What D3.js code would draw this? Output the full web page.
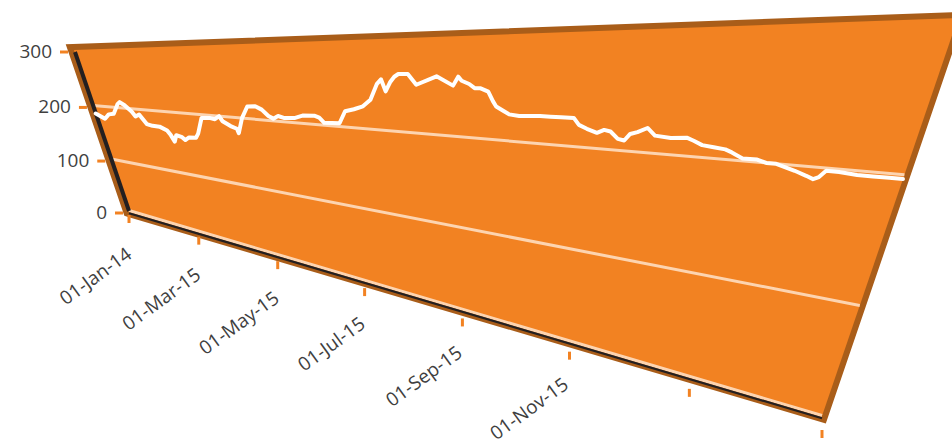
<!DOCTYPE html>
<html>
<head>
<meta charset="utf-8">
<script src="https://cdn.jsdelivr.net/npm/d3@7"></script>
<style>
  html, body { margin: 0; padding: 0; background: #ffffff; }
  svg { display: block; font-family: "Open Sans", "DejaVu Sans", sans-serif; }
</style>
</head>
<body>
<svg id="chart" width="952" height="445"></svg>
<script>
// ---- data ----
const dates = [
  "2015-01-01","2015-01-07","2015-01-11","2015-01-15","2015-01-20","2015-01-22","2015-01-25","2015-01-29","2015-01-31",
  "2015-02-03","2015-02-07","2015-02-11","2015-02-16","2015-02-21","2015-02-23","2015-02-25","2015-02-27",
  "2015-03-03","2015-03-05","2015-03-08","2015-03-13","2015-03-15","2015-03-19","2015-03-25","2015-03-28","2015-03-31",
  "2015-04-02","2015-04-07","2015-04-11","2015-04-12","2015-04-15","2015-04-19","2015-04-24","2015-04-28",
  "2015-05-02","2015-05-05","2015-05-08","2015-05-12","2015-05-18","2015-05-23","2015-05-30",
  "2015-06-02","2015-06-05","2015-06-14","2015-06-17","2015-06-22","2015-06-27",
  "2015-07-01","2015-07-04","2015-07-06","2015-07-09","2015-07-11","2015-07-13","2015-07-15","2015-07-20","2015-07-25",
  "2015-08-04","2015-08-13","2015-08-15","2015-08-17","2015-08-21","2015-08-24","2015-08-27","2015-08-31",
  "2015-09-03","2015-09-05","2015-09-09","2015-09-12","2015-09-17","2015-09-27",
  "2015-10-02","2015-10-07","2015-10-13","2015-10-16","2015-10-20","2015-10-25","2015-10-28","2015-10-31",
  "2015-11-04","2015-11-07","2015-11-09","2015-11-12","2015-11-16","2015-11-20","2015-11-27",
  "2015-12-04","2015-12-07","2015-12-11","2015-12-16","2015-12-21","2015-12-24","2015-12-29",
  "2016-01-04","2016-01-08","2016-01-12","2016-01-20","2016-01-25","2016-01-28","2016-01-30",
  "2016-02-01","2016-02-06","2016-02-13","2016-02-19","2016-02-25","2016-03-01"
];
const prices = [
  185,177,186,188,206,210,205,195,187,
  191,176,174,174,169,162,152,163,
  161,157,162,163,170,195,196,195,200,
  193,187,184,178,200,217,218,214,
  206,203,207,205,206,210,211,
  209,203,204,219,222,226,
  234,252,257,244,254,260,263,263,252,
  261,252,261,257,254,250,250,247,
  238,233,229,226,225,226,
  226,226,226,220,217,214,217,216,
  210,209,215,217,221,215,214,
  215,213,210,209,208,206,202,
  202,200,200,196,193,191,193,
  198,198,197,197,197,197
];
const yTickValues = [0, 100, 200, 300];
const xTickDates = ["2015-01-01","2015-03-01","2015-05-01","2015-07-01","2015-09-01","2015-11-01","2016-01-01","2016-03-01"];
const xTickLabels = ["01-Jan-14","01-Mar-15","01-May-15","01-Jul-15","01-Sep-15","01-Nov-15","",""];

// ---- colours ----
const ORANGE = "#F28222";
const BROWN = "#A95D19";
const GRID = "#FDD4B0";
const AXIS = "#231F20";
const TEXT = "#3F3F3F";

const parse = d3.timeParse("%Y-%m-%d");
const svg = d3.select("#chart");

// flat chart space: both axes normalised to [0,1]
const x = d3.scaleTime().domain([parse("2015-01-01"), parse("2016-03-01")]).range([0, 1]);
const y = d3.scaleLinear().domain([0, 300]).range([0, 1]);

// tilted plot plane: corner positions on screen and foreshortening per direction
const corner = { bl: [129, 211], br: [822, 416], tr: [958, 18], tl: [74, 50] };
const depth = { x: 0.44, left: 0.05, right: 0.3 };
const foreshorten = (t, k) => t / (1 + k * (1 - t));
const mix = (a, b, t) => [a[0] + (b[0] - a[0]) * t, a[1] + (b[1] - a[1]) * t];
function project(u, v) {
  const L = mix(corner.bl, corner.tl, foreshorten(v, depth.left));
  const R = mix(corner.br, corner.tr, foreshorten(v, depth.right));
  return mix(L, R, foreshorten(u, depth.x));
}
const quad = [project(0, 0), project(1, 0), project(1, 1), project(0, 1)];
const poly = pts => "M" + pts.map(p => p.join(",")).join("L") + "Z";

// plane thickness (brown rim) and face
svg.append("path").attr("d", poly(quad))
  .attr("fill", BROWN).attr("stroke", BROWN).attr("stroke-width", 12)
  .attr("stroke-linejoin", "miter");
svg.append("path").attr("d", poly(quad)).attr("fill", ORANGE);

// horizontal gridlines
const gridVals = yTickValues.filter(v => v < 300);
svg.append("g").selectAll("line").data(gridVals).join("line")
  .each(function (v) {
    const a = project(0, y(v)), b = project(1, y(v));
    const dy = v === 0 ? -0.5 : 0;
    d3.select(this).attr("x1", a[0]).attr("y1", a[1] + dy).attr("x2", b[0]).attr("y2", b[1] + dy);
  })
  .attr("stroke", GRID).attr("stroke-width", 3);

// axis domain lines (left and bottom)
const l0 = project(0, 0), l1 = project(0, 1), b1 = project(1, 0);
svg.append("line").attr("x1", l0[0]).attr("y1", l0[1]).attr("x2", l1[0] + 1).attr("y2", l1[1] + 2)
  .attr("stroke", AXIS).attr("stroke-width", 4);
svg.append("line").attr("x1", l0[0]).attr("y1", l0[1] + 2.2).attr("x2", b1[0]).attr("y2", b1[1] + 2.2)
  .attr("stroke", AXIS).attr("stroke-width", 2.2);

// price line
const series = dates.map((d, i) => ({ date: parse(d), value: prices[i] }));
const line = d3.line()
  .x(d => project(x(d.date), y(d.value))[0])
  .y(d => project(x(d.date), y(d.value))[1]);
svg.append("path").datum(series)
  .attr("d", line)
  .attr("fill", "none").attr("stroke", "#ffffff").attr("stroke-width", 4)
  .attr("stroke-linejoin", "round").attr("stroke-linecap", "round");

// y axis ticks + labels
const yAxis = svg.append("g");
yTickValues.forEach(v => {
  const p = project(0, y(v));
  yAxis.append("line").attr("x1", p[0] - 14).attr("x2", p[0] - 6)
    .attr("y1", p[1] + 2).attr("y2", p[1] + 2)
    .attr("stroke", ORANGE).attr("stroke-width", 3);
  yAxis.append("text").attr("x", p[0] - 22).attr("y", p[1] + 1)
    .attr("text-anchor", "end").attr("dominant-baseline", "central")
    .attr("font-size", 19).attr("fill", TEXT).text(d3.format("d")(v));
});

// x axis ticks + labels
const xAxis = svg.append("g");
xTickDates.forEach((d, i) => {
  const u = x(parse(d));
  const p = project(u, 0);
  const s = foreshorten(u, depth.x);
  const top = p[1] + 4 + 10 * s;
  xAxis.append("line").attr("x1", p[0]).attr("x2", p[0])
    .attr("y1", top).attr("y2", top + 8)
    .attr("stroke", ORANGE).attr("stroke-width", 3);
  if (xTickLabels[i]) {
    xAxis.append("text")
      .attr("transform", `translate(${p[0] + 4 - 6 * s},${p[1] + 46}) rotate(-36)`)
      .attr("text-anchor", "end")
      .attr("font-size", 19).attr("fill", TEXT).text(xTickLabels[i]);
  }
});
</script>
</body>
</html>
